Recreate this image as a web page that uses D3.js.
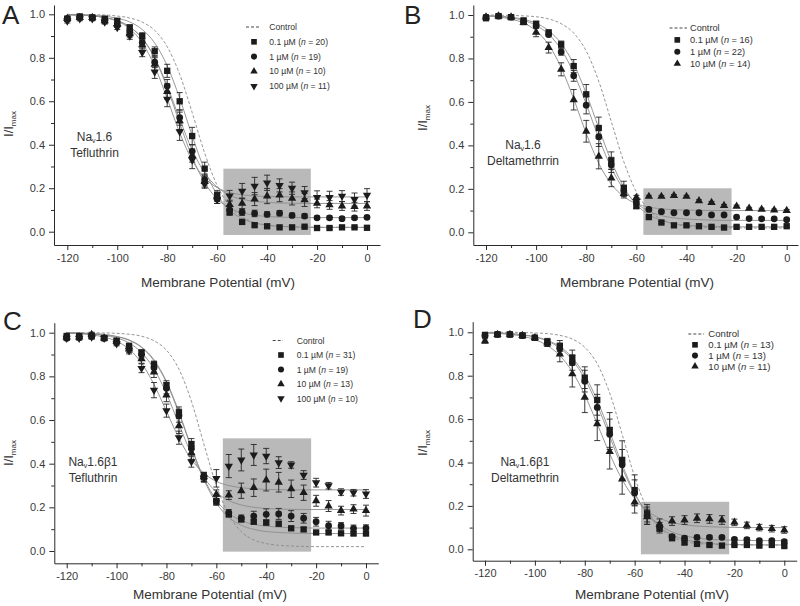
<!DOCTYPE html>
<html><head><meta charset="utf-8">
<script src="https://cdn.jsdelivr.net/npm/d3@7/dist/d3.min.js"></script>
<style>
body{margin:0;background:#fff}
svg{display:block}
text{font-family:"Liberation Sans",Arial,sans-serif}
</style>
</head><body>
<svg id="c" width="800" height="606"></svg>
<script>
// ---------- shared ----------
const volts = [-120,-115,-110,-105,-100,-95,-90,-85,-80,-75,-70,-65,-60,-55,-50,-45,-40,-35,-30,-25,-20,-15,-10,-5,0];
const xMajorTicks = [-120,-100,-80,-60,-40,-20,0];
const xMinorTicks = [-110,-90,-70,-50,-30,-10];
const yMajorTicks = [0,0.2,0.4,0.6,0.8,1.0];
const yMinorTicks = [0.1,0.3,0.5,0.7,0.9];

// ---------- Panel A : Nav1.6 Tefluthrin ----------
const A_sq  = [0.98,0.99,0.985,0.98,0.97,0.94,0.90,0.83,0.74,0.60,0.44,0.29,0.17,0.09,0.045,0.03,0.025,0.02,0.02,0.023,0.017,0.017,0.02,0.02,0.018];
const A_ci  = [0.98,0.985,0.985,0.97,0.95,0.92,0.87,0.78,0.67,0.525,0.37,0.24,0.15,0.10,0.09,0.084,0.08,0.085,0.075,0.072,0.064,0.064,0.06,0.064,0.066];
const A_tri = [0.98,0.985,0.985,0.97,0.955,0.91,0.86,0.77,0.645,0.51,0.35,0.23,0.16,0.125,0.13,0.15,0.164,0.168,0.153,0.146,0.13,0.123,0.118,0.115,0.118];
const A_inv = [0.97,0.98,0.98,0.965,0.94,0.90,0.825,0.735,0.61,0.46,0.33,0.22,0.15,0.165,0.187,0.21,0.225,0.213,0.20,0.18,0.158,0.158,0.164,0.148,0.168];
const A_sq_err  = [0.01,0.01,0.01,0.01,0.01,0.01,0.015,0.02,0.03,0.04,0.04,0.03,0.02,0.015,0.005,0.005,0.005,0.005,0.005,0.005,0.005,0.005,0.005,0.005,0.005];
const A_ci_err  = [0.01,0.01,0.01,0.01,0.01,0.015,0.02,0.025,0.03,0.035,0.03,0.025,0.02,0.02,0.015,0.015,0.012,0.012,0.01,0.01,0.008,0.008,0.008,0.008,0.008];
const A_tri_err = [0.01,0.01,0.01,0.01,0.01,0.015,0.02,0.03,0.035,0.04,0.03,0.025,0.02,0.02,0.025,0.03,0.035,0.03,0.03,0.03,0.02,0.02,0.02,0.02,0.02];
const A_inv_err = [0.01,0.01,0.01,0.01,0.01,0.015,0.02,0.03,0.035,0.04,0.04,0.02,0.02,0.025,0.035,0.04,0.035,0.03,0.028,0.028,0.03,0.028,0.025,0.03,0.03];
const A_fit_sq  = [0.999,0.998,0.996,0.991,0.982,0.965,0.930,0.868,0.763,0.614,0.441,0.284,0.170,0.099,0.060,0.040,0.030,0.025,0.022,0.021,0.020,0.020,0.020,0.020,0.020];
const A_fit_ci  = [0.998,0.996,0.993,0.985,0.971,0.942,0.889,0.798,0.662,0.499,0.343,0.226,0.151,0.109,0.087,0.076,0.070,0.067,0.066,0.065,0.065,0.065,0.065,0.065,0.065];
const A_fit_tri = [0.998,0.996,0.993,0.985,0.971,0.942,0.890,0.801,0.671,0.518,0.376,0.271,0.205,0.168,0.149,0.140,0.135,0.132,0.131,0.130,0.130,0.130,0.130,0.130,0.130];
const A_fit_inv = [0.998,0.997,0.993,0.985,0.968,0.934,0.869,0.761,0.612,0.455,0.328,0.247,0.203,0.180,0.170,0.164,0.162,0.161,0.160,0.160,0.160,0.160,0.160,0.160,0.160];
const A_control = [1.0,0.999,0.998,0.997,0.992,0.983,0.964,0.926,0.851,0.724,0.548,0.362,0.213,0.119,0.068,0.043,0.030,0.025,0.022,0.021,0.020,0.020,0.020,0.020,0.020];
const A_box = [-57.5,-22.5,-0.015,0.29];
const A_doses = ["0.1 \u00b5M","1 \u00b5M","10 \u00b5M","100 \u00b5M"];
const A_n = [20,19,10,11];

// ---------- Panel B : Nav1.6 Deltamethrin ----------
const B_sq  = [0.985,0.995,0.99,0.975,0.96,0.92,0.865,0.765,0.635,0.48,0.33,0.205,0.12,0.07,0.045,0.032,0.032,0.028,0.025,0.022,0.025,0.025,0.025,0.025,0.028];
const B_ci  = [0.99,0.995,0.99,0.97,0.95,0.91,0.83,0.72,0.585,0.44,0.31,0.19,0.14,0.105,0.095,0.09,0.09,0.09,0.08,0.08,0.07,0.063,0.062,0.062,0.058];
const B_tri = [0.99,0.995,0.99,0.965,0.92,0.85,0.75,0.61,0.465,0.35,0.25,0.178,0.16,0.165,0.165,0.169,0.165,0.145,0.137,0.123,0.12,0.11,0.106,0.102,0.10];
const B_sq_err  = [0.01,0.005,0.01,0.01,0.01,0.01,0.015,0.03,0.045,0.05,0.04,0.03,0.01,0.005,0.005,0.005,0.005,0.005,0.005,0.005,0.005,0.005,0.005,0.005,0.005];
const B_ci_err  = [0.01,0.005,0.01,0.01,0.01,0.01,0.015,0.025,0.04,0.045,0.035,0.025,0.01,0.005,0.005,0.005,0.005,0.005,0.005,0.005,0.005,0.005,0.005,0.005,0.005];
const B_tri_err = [0.01,0.005,0.01,0.01,0.02,0.025,0.03,0.047,0.05,0.058,0.04,0.02,0.01,0.005,0.005,0.005,0.005,0.005,0.005,0.005,0.005,0.005,0.005,0.005,0.005];
const B_fit_sq  = [0.997,0.995,0.990,0.980,0.962,0.928,0.869,0.774,0.639,0.480,0.327,0.208,0.128,0.081,0.055,0.040,0.033,0.029,0.027,0.026,0.025,0.025,0.025,0.025,0.025];
const B_fit_ci  = [0.996,0.993,0.987,0.975,0.952,0.911,0.841,0.733,0.590,0.434,0.297,0.197,0.134,0.097,0.077,0.066,0.061,0.058,0.056,0.055,0.055,0.055,0.055,0.055,0.055];
const B_fit_tri = [0.996,0.991,0.981,0.963,0.927,0.863,0.758,0.614,0.455,0.317,0.222,0.164,0.132,0.116,0.108,0.104,0.102,0.101,0.100,0.100,0.100,0.100,0.100,0.100,0.100];
const B_control = [1.0,0.999,0.998,0.996,0.992,0.982,0.960,0.917,0.834,0.695,0.510,0.325,0.186,0.103,0.060,0.038,0.028,0.024,0.022,0.021,0.020,0.020,0.020,0.020,0.020];
const B_box = [-57.2,-22.0,-0.012,0.2025];
const B_doses = ["0.1 \u00b5M","1 \u00b5M","10 \u00b5M"];
const B_n = [16,22,14];

// ---------- Panel C : Nav1.6b1 Tefluthrin ----------
const C_sq  = [0.985,0.985,0.985,0.975,0.963,0.94,0.91,0.855,0.76,0.635,0.49,0.34,0.226,0.168,0.145,0.134,0.13,0.125,0.104,0.099,0.085,0.085,0.081,0.08,0.08];
const C_ci  = [0.975,0.98,0.985,0.975,0.955,0.93,0.90,0.84,0.745,0.62,0.47,0.34,0.23,0.175,0.15,0.16,0.168,0.17,0.16,0.15,0.134,0.116,0.115,0.104,0.105];
const C_tri = [0.98,0.98,0.992,0.975,0.96,0.925,0.88,0.82,0.714,0.573,0.45,0.34,0.26,0.256,0.276,0.29,0.325,0.315,0.285,0.267,0.23,0.206,0.185,0.192,0.185];
const C_inv = [0.975,0.975,0.98,0.975,0.95,0.918,0.837,0.737,0.643,0.519,0.409,0.335,0.333,0.389,0.417,0.44,0.435,0.405,0.394,0.348,0.313,0.299,0.27,0.267,0.261];
const C_sq_err  = [0.01,0.01,0.01,0.01,0.01,0.01,0.01,0.015,0.02,0.025,0.025,0.02,0.015,0.012,0.012,0.01,0.01,0.01,0.008,0.008,0.008,0.008,0.008,0.008,0.008];
const C_ci_err  = [0.01,0.01,0.01,0.01,0.01,0.01,0.015,0.02,0.025,0.03,0.03,0.02,0.02,0.015,0.015,0.022,0.025,0.025,0.025,0.022,0.02,0.02,0.015,0.015,0.015];
const C_tri_err = [0.01,0.01,0.01,0.01,0.01,0.015,0.02,0.025,0.03,0.035,0.03,0.02,0.02,0.02,0.035,0.04,0.05,0.045,0.04,0.035,0.025,0.025,0.02,0.02,0.025];
const C_inv_err = [0.01,0.01,0.01,0.01,0.01,0.015,0.02,0.035,0.03,0.03,0.025,0.02,0.04,0.053,0.05,0.048,0.035,0.027,0.015,0.02,0.02,0.015,0.015,0.015,0.02];
const C_fit_sq  = [0.999,0.998,0.996,0.992,0.983,0.967,0.935,0.876,0.777,0.637,0.475,0.327,0.220,0.154,0.118,0.099,0.089,0.085,0.082,0.081,0.080,0.080,0.080,0.080,0.080];
const C_fit_ci  = [0.999,0.998,0.996,0.991,0.982,0.965,0.932,0.871,0.772,0.631,0.473,0.333,0.233,0.173,0.140,0.122,0.114,0.109,0.107,0.106,0.105,0.105,0.105,0.105,0.105];
const C_fit_tri = [0.999,0.997,0.994,0.988,0.976,0.953,0.909,0.834,0.721,0.581,0.444,0.338,0.270,0.231,0.211,0.200,0.195,0.192,0.191,0.190,0.190,0.190,0.190,0.190,0.190];
const C_fit_inv = [0.998,0.995,0.990,0.980,0.961,0.925,0.861,0.763,0.640,0.517,0.419,0.356,0.319,0.300,0.290,0.285,0.282,0.281,0.280,0.280,0.280,0.280,0.280,0.280,0.280];
const C_control = [1.0,1.0,0.999,0.999,0.997,0.993,0.984,0.963,0.920,0.833,0.686,0.490,0.300,0.165,0.089,0.051,0.034,0.026,0.023,0.021,0.020,0.020,0.020,0.020,0.020];
const C_box = [-57.4,-22.0,-0.003,0.516];
const C_doses = ["0.1 \u00b5M","1 \u00b5M","10 \u00b5M","100 \u00b5M"];
const C_n = [31,19,13,10];

// ---------- Panel D : Nav1.6b1 Deltamethrin ----------
const D_sq  = [0.988,0.99,0.99,0.985,0.975,0.957,0.937,0.883,0.791,0.688,0.55,0.412,0.273,0.166,0.095,0.051,0.031,0.025,0.02,0.017,0.02,0.02,0.017,0.02,0.015];
const D_ci  = [0.985,0.99,0.99,0.985,0.975,0.95,0.925,0.86,0.775,0.654,0.53,0.39,0.26,0.155,0.104,0.058,0.051,0.055,0.055,0.055,0.046,0.045,0.04,0.04,0.035];
const D_tri = [0.96,0.99,0.99,0.985,0.975,0.95,0.899,0.808,0.70,0.578,0.45,0.324,0.217,0.15,0.115,0.13,0.135,0.143,0.14,0.135,0.124,0.11,0.10,0.095,0.089];
const D_sq_err  = [0.01,0.01,0.01,0.01,0.01,0.015,0.025,0.035,0.05,0.07,0.08,0.088,0.07,0.04,0.02,0.01,0.008,0.008,0.005,0.005,0.005,0.005,0.005,0.005,0.005];
const D_ci_err  = [0.01,0.01,0.01,0.01,0.01,0.015,0.025,0.035,0.05,0.06,0.07,0.07,0.06,0.04,0.02,0.01,0.01,0.008,0.008,0.008,0.008,0.008,0.008,0.008,0.008];
const D_tri_err = [0.01,0.01,0.01,0.01,0.01,0.015,0.035,0.06,0.07,0.077,0.08,0.07,0.05,0.035,0.025,0.02,0.02,0.02,0.02,0.02,0.015,0.015,0.015,0.015,0.015];
const D_fit_sq  = [0.998,0.997,0.994,0.989,0.980,0.963,0.934,0.883,0.802,0.686,0.541,0.390,0.260,0.165,0.103,0.066,0.045,0.034,0.027,0.024,0.022,0.021,0.020,0.020,0.020];
const D_fit_ci  = [0.998,0.997,0.994,0.988,0.978,0.960,0.927,0.873,0.786,0.665,0.520,0.375,0.254,0.168,0.113,0.080,0.062,0.052,0.046,0.043,0.042,0.041,0.040,0.040,0.040];
const D_fit_tri = [0.997,0.995,0.990,0.982,0.966,0.939,0.893,0.818,0.711,0.578,0.440,0.321,0.233,0.177,0.143,0.123,0.113,0.107,0.104,0.102,0.101,0.100,0.100,0.100,0.100];
const D_control = [1.0,1.0,1.0,0.999,0.997,0.994,0.986,0.969,0.931,0.855,0.720,0.530,0.334,0.187,0.100,0.057,0.036,0.027,0.023,0.021,0.020,0.020,0.020,0.020,0.020];
const D_box = [-57.5,-22.1,-0.023,0.219];
const D_doses = ["0.1 \u00b5M","1 \u00b5M","10 \u00b5M"];
const D_n = [13,13,11];

// ---------- layout (pixels) ----------
const panels = [
  {letter:"A", letterPos:[2,24], tx:[67.3,367], ty:[231.7,14.3], axX:[54,380], axY:[245,5],
   values:[A_sq,A_ci,A_tri,A_inv], errs:[A_sq_err,A_ci_err,A_tri_err,A_inv_err],
   fits:[A_fit_sq,A_fit_ci,A_fit_tri,A_fit_inv], control:A_control, box:A_box,
   doses:A_doses, ns:A_n, name:"Tefluthrin", beta:false, annot:[94.5,141,16],
   leg:{mx:254, dash:[246,259], tx:269.3, y0:27, dy:14.8, fs:8.6},
   xlab:[218,287], ylab:[13,124]},
  {letter:"B", letterPos:[404,24], tx:[486,786.7], ty:[232.3,15], axX:[473.3,798], axY:[245,5],
   values:[B_sq,B_ci,B_tri], errs:[B_sq_err,B_ci_err,B_tri_err],
   fits:[B_fit_sq,B_fit_ci,B_fit_tri], control:B_control, box:B_box,
   doses:B_doses, ns:B_n, name:"Deltamethrrin", beta:false, annot:[523,149,16],
   leg:{mx:677.3, dash:[669.5,687], tx:690, y0:28, dy:11.9, fs:9.2},
   xlab:[637,287], ylab:[427,118]},
  {letter:"C", letterPos:[3,330], tx:[66.7,366], ty:[551,332.7], axX:[54.3,378.3], axY:[563.3,322.7],
   values:[C_sq,C_ci,C_tri,C_inv], errs:[C_sq_err,C_ci_err,C_tri_err,C_inv_err],
   fits:[C_fit_sq,C_fit_ci,C_fit_tri,C_fit_inv], control:C_control, box:C_box,
   doses:C_doses, ns:C_n, name:"Tefluthrin", beta:true, annot:[93,466,16],
   leg:{mx:281, dash:[272.7,283], tx:296.7, y0:340.5, dy:14.5, fs:8.6},
   xlab:[210,599], ylab:[13,453]},
  {letter:"D", letterPos:[413,328], tx:[485,784.3], ty:[549.3,332.3], axX:[472.7,796.7], axY:[560.7,321.7],
   values:[D_sq,D_ci,D_tri], errs:[D_sq_err,D_ci_err,D_tri_err],
   fits:[D_fit_sq,D_fit_ci,D_fit_tri], control:D_control, box:D_box,
   doses:D_doses, ns:D_n, name:"Deltamethrin", beta:true, annot:[525,466,16],
   leg:{mx:695, dash:[688.3,704], tx:708.3, y0:334, dy:10.8, fs:9.6},
   xlab:[652,599], ylab:[427,443]}
];

const symTypes = [d3.symbolSquare, d3.symbolCircle, d3.symbolTriangle, d3.symbolTriangle];
const symSizes = [40, 36, 30, 30];
const symRot = [0, 0, 0, 180];
const markColor = "#1c1c1c";
const svg = d3.select("#c");

function drawPanel(p) {
  const g = svg.append("g");
  const xs = d3.scaleLinear().domain([-120, 0]).range(p.tx);
  const ys = d3.scaleLinear().domain([0, 1]).range(p.ty);
  const x = d3.scaleLinear().domain([xs.invert(p.axX[0]), xs.invert(p.axX[1])]).range(p.axX);
  const y = d3.scaleLinear().domain([ys.invert(p.axY[0]), ys.invert(p.axY[1])]).range(p.axY);

  // shaded box
  g.append("rect")
    .attr("x", x(p.box[0])).attr("width", x(p.box[1]) - x(p.box[0]))
    .attr("y", y(p.box[3])).attr("height", y(p.box[2]) - y(p.box[3]))
    .attr("fill", "#b9b9b9");

  // axes
  g.append("g").attr("transform", `translate(0,${p.axY[0]})`)
    .call(d3.axisBottom(x).tickValues(xMajorTicks).tickSize(5).tickSizeOuter(0).tickPadding(4).tickFormat(d => String(d)));
  g.append("g").attr("transform", `translate(0,${p.axY[0]})`)
    .call(d3.axisBottom(x).tickValues(xMinorTicks).tickSize(3).tickFormat(""))
    .call(s => s.select(".domain").remove());
  g.append("g").attr("transform", `translate(${p.axX[0]},0)`)
    .call(d3.axisLeft(y).tickValues(yMajorTicks).tickSize(5).tickSizeOuter(0).tickPadding(4).tickFormat(d3.format(".1f")));
  g.append("g").attr("transform", `translate(${p.axX[0]},0)`)
    .call(d3.axisLeft(y).tickValues(yMinorTicks).tickSize(3).tickFormat(""))
    .call(s => s.select(".domain").remove());
  g.selectAll(".domain, .tick line").attr("stroke", "#2a2a2a").attr("stroke-width", 1);
  g.selectAll(".tick text").attr("fill", "#3a3a3a").attr("font-size", 11);

  // fit curves
  const line = d3.line().x((d, i) => x(volts[i])).y(d => y(d)).curve(d3.curveMonotoneX);
  p.fits.forEach(f => {
    g.append("path").attr("d", line(f)).attr("fill", "none")
      .attr("stroke", "#8c8c8c").attr("stroke-width", 0.9);
  });
  g.append("path").attr("d", line(p.control)).attr("fill", "none")
    .attr("stroke", "#8a8a8a").attr("stroke-width", 0.9).attr("stroke-dasharray", "3,2");

  // error bars and markers
  p.values.forEach((vals, s) => {
    const errs = p.errs[s];
    const eb = g.append("g").attr("stroke", "#262626").attr("stroke-width", 0.9);
    vals.forEach((v, i) => {
      const cx = x(volts[i]);
      const lo = y(v - errs[i]), hi = y(v + errs[i]);
      eb.append("line").attr("x1", cx).attr("x2", cx).attr("y1", lo).attr("y2", hi);
      eb.append("line").attr("x1", cx - 3).attr("x2", cx + 3).attr("y1", lo).attr("y2", lo);
      eb.append("line").attr("x1", cx - 3).attr("x2", cx + 3).attr("y1", hi).attr("y2", hi);
    });
  });
  p.values.forEach((vals, s) => {
    const sym = d3.symbol().type(symTypes[s]).size(symSizes[s]);
    g.append("g").selectAll("path").data(vals).join("path")
      .attr("d", sym)
      .attr("transform", (d, i) => `translate(${x(volts[i])},${y(d)}) rotate(${symRot[s]})`)
      .attr("fill", markColor);
  });

  // legend
  const L = p.leg;
  g.append("line").attr("x1", L.dash[0]).attr("x2", L.dash[1]).attr("y1", L.y0).attr("y2", L.y0)
    .attr("stroke", "#333").attr("stroke-width", 0.9).attr("stroke-dasharray", "3,2");
  g.append("text").attr("x", L.tx).attr("y", L.y0).attr("dy", "0.35em")
    .attr("font-size", L.fs).attr("fill", "#333").text("Control");
  p.doses.forEach((d, k) => {
    const yy = L.y0 + L.dy * (k + 1);
    g.append("path").attr("d", d3.symbol().type(symTypes[k]).size(symSizes[k] * 0.8)())
      .attr("transform", `translate(${L.mx},${yy}) rotate(${symRot[k]})`).attr("fill", markColor);
    const t = g.append("text").attr("x", L.tx).attr("y", yy).attr("dy", "0.35em")
      .attr("font-size", L.fs).attr("fill", "#333");
    t.append("tspan").text(d + " (");
    t.append("tspan").attr("font-style", "italic").text("n");
    t.append("tspan").text(" = " + p.ns[k] + ")");
  });

  // annotation (two lines)
  const a = p.annot;
  const t1 = g.append("text").attr("x", a[0]).attr("y", a[1]).attr("text-anchor", "middle")
    .attr("font-size", 12).attr("fill", "#333");
  t1.append("tspan").text("Na");
  t1.append("tspan").attr("font-size", 7).attr("dy", 2).text("v");
  t1.append("tspan").attr("dy", -2).text(p.beta ? "1.6\u03b21" : "1.6");
  g.append("text").attr("x", a[0]).attr("y", a[1] + a[2]).attr("text-anchor", "middle")
    .attr("font-size", 12).attr("fill", "#333").text(p.name);

  // axis titles
  g.append("text").attr("x", p.xlab[0]).attr("y", p.xlab[1]).attr("text-anchor", "middle")
    .attr("font-size", 13.5).attr("fill", "#333").text("Membrane Potential (mV)");
  const yl = g.append("text").attr("transform", `translate(${p.ylab[0]},${p.ylab[1]}) rotate(-90)`)
    .attr("text-anchor", "middle").attr("font-size", 13).attr("fill", "#333");
  yl.append("tspan").text("I/I");
  yl.append("tspan").attr("font-size", 8).attr("dy", 3).text("max");

  // panel letter
  svg.append("text").attr("x", p.letterPos[0]).attr("y", p.letterPos[1])
    .attr("font-size", 26).attr("fill", "#222")
    .text(p.letter);
}

panels.forEach(drawPanel);
</script>
</body></html>
